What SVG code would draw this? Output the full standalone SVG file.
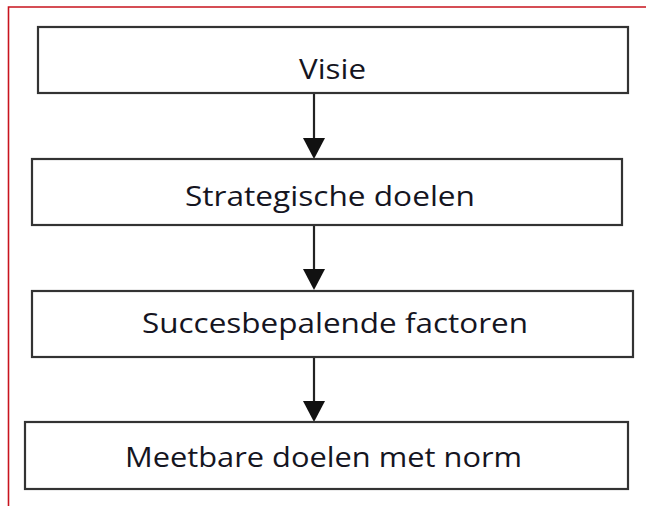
<svg xmlns="http://www.w3.org/2000/svg" width="646" height="506" viewBox="0 0 646 506">
  <style>
    .box { fill: #ffffff; stroke: #333333; stroke-width: 2.2; }
    .label { font-family: "Open Sans", "Noto Sans", "Liberation Sans", sans-serif; font-size: 28px; fill: #15151f; }
    .link { stroke: #222222; stroke-width: 2.2; fill: none; }
    .frame { stroke: #c8141e; stroke-width: 1.6; fill: none; }
  </style>
  <defs>
    <marker id="head" viewBox="0 0 22 21" refX="11" refY="21" markerWidth="22" markerHeight="21" markerUnits="userSpaceOnUse" orient="auto-start-reverse">
      <path d="M0,0 L22,0 L11,21 Z" fill="#111111"/>
    </marker>
  </defs>

  <rect x="0" y="0" width="646" height="506" fill="#ffffff"/>
  <!-- outer frame: top and left edges only -->
  <path class="frame" d="M8.5,506 L8.5,7 L646,7"/>

  <g id="connectors">
    <line class="link" x1="314" y1="93" x2="314" y2="138"/>
    <path d="M303,138 L325,138 L314,159 Z" fill="#111111"/>
    <line class="link" x1="314" y1="225" x2="314" y2="269"/>
    <path d="M303,269 L325,269 L314,290 Z" fill="#111111"/>
    <line class="link" x1="314" y1="357" x2="314" y2="401"/>
    <path d="M303,401 L325,401 L314,422 Z" fill="#111111"/>
  </g>

  <g id="visie">
    <rect class="box" x="38" y="27" width="590" height="66"/>
    <text class="label" x="299" y="79" textLength="67" lengthAdjust="spacingAndGlyphs">Visie</text>
  </g>

  <g id="strategische-doelen">
    <rect class="box" x="32" y="159" width="590" height="66"/>
    <text class="label" x="185" y="206" textLength="290" lengthAdjust="spacingAndGlyphs">Strategische doelen</text>
  </g>

  <g id="succesbepalende-factoren">
    <rect class="box" x="32" y="291" width="601" height="66"/>
    <text class="label" x="142" y="333" textLength="386" lengthAdjust="spacingAndGlyphs">Succesbepalende factoren</text>
  </g>

  <g id="meetbare-doelen">
    <rect class="box" x="25" y="422" width="603" height="67"/>
    <text class="label" x="125" y="467" textLength="397" lengthAdjust="spacingAndGlyphs">Meetbare doelen met norm</text>
  </g>
</svg>
